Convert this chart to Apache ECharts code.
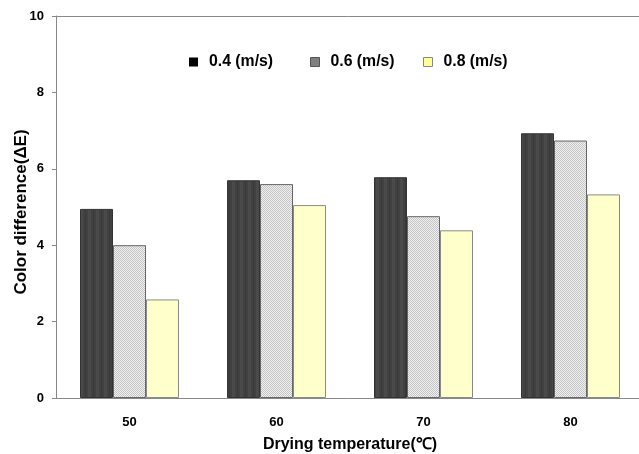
<!DOCTYPE html>
<html>
<head>
<meta charset="utf-8">
<script src="https://cdn.jsdelivr.net/npm/echarts@6/dist/echarts.min.js"></script>
<style>
  html, body { margin: 0; padding: 0; background: #fff; }
  #chart { width: 639px; height: 454px; }
</style>
</head>
<body>
<div id="chart"></div>
<script>
let categories = ['50', '60', '70', '80']
let seriesNames = ['0.4 (m/s)', '0.6 (m/s)', '0.8 (m/s)']
let data_04 = [4.95, 5.70, 5.78, 6.93]
let data_06 = [4.00, 5.60, 4.76, 6.74]
let data_08 = [2.58, 5.05, 4.39, 5.33]
let yTicks = [0, 2, 4, 6, 8, 10]

// little repeating patterns to mimic the fills
makePattern = (w, h, draw) => {
	let c = document.createElement('canvas')
	c.width = w
	c.height = h
	draw(c.getContext('2d'))
	return { image: c, repeat: 'repeat' }
}
let darkFill = makePattern(8, 2, ctx => {
	ctx.fillStyle = '#414141'
	ctx.fillRect(0, 0, 8, 2)
	ctx.fillStyle = '#4a4a4a'
	ctx.fillRect(0, 0, 3, 2)
	ctx.fillStyle = '#393939'
	ctx.fillRect(5, 0, 1, 2)
})
let checkFill = makePattern(2, 2, ctx => {
	ctx.fillStyle = '#f0f0f0'
	ctx.fillRect(0, 0, 2, 2)
	ctx.fillStyle = '#c4c4c4'
	ctx.fillRect(0, 0, 1, 1)
	ctx.fillRect(1, 1, 1, 1)
})

let font = 'Liberation Sans, Arial, sans-serif'
let legendIcons = [
	{ color: '#000', borderWidth: 0 },
	{ color: '#808080', borderColor: '#555', borderWidth: 1 },
	{ color: '#ffff99', borderColor: '#888', borderWidth: 1 }
]
let legendLeft = [189, 310, 423]

// one legend per item so each sits where the original has it
let legends = seriesNames.map((name, i) => ({
	left: legendLeft[i],
	top: 53,
	padding: 0,
	itemWidth: 9,
	itemHeight: 9,
	textStyle: {
		fontFamily: font,
		fontWeight: 'bold',
		fontSize: 15.8,
		lineHeight: 18,
		color: '#000',
		padding: [0, 0, 0, 6]
	},
	data: [{ name: name, icon: 'rect', itemStyle: legendIcons[i] }]
}))

let chart = echarts.init(document.getElementById('chart'))
let option = {
	backgroundColor: '#fff',
	animation: false,
	legend: legends,
	grid: {
		left: 56,
		top: 16,
		width: 588,
		bottom: 56,
		outerBoundsMode: 'none',
		containLabel: false
	},
	xAxis: [{
			type: 'category',
			data: categories,
			name: 'Drying temperature(℃)',
			nameLocation: 'middle',
			nameGap: 39,
			nameMoveOverlap: false,
			nameTextStyle: {
				fontFamily: font,
				fontWeight: 'bold',
				fontSize: 16,
				color: '#000'
			},
			axisLine: {
				lineStyle: { color: '#888', width: 1 }
			},
			axisTick: { show: false },
			axisLabel: {
				margin: 18,
				fontFamily: font,
				fontWeight: 'bold',
				fontSize: 13,
				color: '#000'
			}
		},
		{
			// top frame line only
			type: 'category',
			position: 'top',
			data: categories,
			axisLine: {
				lineStyle: { color: '#888', width: 1 }
			},
			axisTick: { show: false },
			axisLabel: { show: false }
		}
	],
	yAxis: {
		type: 'value',
		min: yTicks[0],
		max: yTicks[yTicks.length - 1],
		interval: 2,
		name: 'Color difference(ΔE)',
		nameLocation: 'middle',
		nameGap: 26,
		nameMoveOverlap: false,
		nameTextStyle: {
			fontFamily: font,
			fontWeight: 'bold',
			fontSize: 17,
			color: '#000',
			padding: [0, 10, 0, 0]
		},
		axisLine: {
			show: true,
			lineStyle: { color: '#888', width: 1 }
		},
		axisTick: {
			show: true,
			inside: false,
			length: 4,
			lineStyle: { color: '#888' }
		},
		axisLabel: {
			margin: 12,
			fontFamily: font,
			fontWeight: 'bold',
			fontSize: 13,
			color: '#000'
		},
		splitLine: { show: false }
	},
	series: [{
			name: seriesNames[0],
			type: 'bar',
			barWidth: 33,
			barGap: '0%',
			itemStyle: { color: darkFill, borderColor: '#333', borderWidth: 1 },
			data: data_04
		},
		{
			name: seriesNames[1],
			type: 'bar',
			barWidth: 33,
			barGap: '0%',
			itemStyle: { color: checkFill, borderColor: '#666', borderWidth: 1 },
			data: data_06
		},
		{
			name: seriesNames[2],
			type: 'bar',
			barWidth: 33,
			barGap: '0%',
			itemStyle: { color: '#ffffcc', borderColor: '#8a8a8a', borderWidth: 1 },
			data: data_08
		}
	]
}
chart.setOption(option)
</script>
</body>
</html>
